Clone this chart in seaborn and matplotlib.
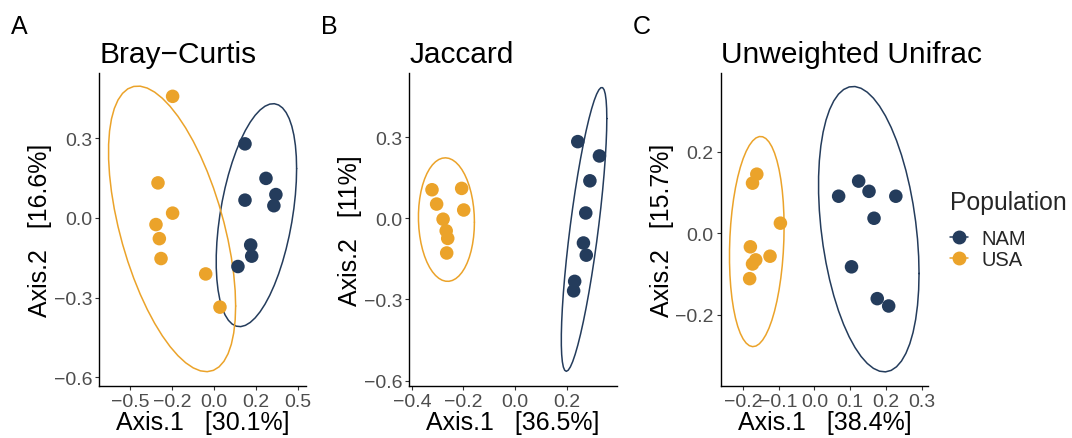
import numpy as np
import pandas as pd
import matplotlib
matplotlib.use('Agg')
import matplotlib.pyplot as plt
from matplotlib.lines import Line2D
import seaborn as sns

populations = ['NAM'] * 8 + ['USA'] * 8

# Bray-Curtis PCoA
bray_x = [0.183, 0.308, 0.367, 0.355, 0.183, 0.217, 0.223, 0.141,
          -0.248, -0.335, -0.248, -0.347, -0.327, -0.317, -0.051, 0.034]
bray_y = [0.279, 0.149, 0.088, 0.046, 0.067, -0.102, -0.144, -0.183,
          0.458, 0.132, 0.018, -0.025, -0.078, -0.153, -0.211, -0.336]

# Jaccard PCoA
jac_x = [0.243, 0.327, 0.290, 0.274, 0.265, 0.276, 0.231, 0.227,
         -0.322, -0.207, -0.304, -0.199, -0.279, -0.267, -0.261, -0.265]
jac_y = [0.284, 0.231, 0.139, 0.020, -0.091, -0.136, -0.233, -0.268,
         0.106, 0.111, 0.053, 0.031, -0.003, -0.046, -0.074, -0.128]

# Unweighted Unifrac PCoA
uni_x = [0.068, 0.124, 0.153, 0.228, 0.167, 0.104, 0.176, 0.208,
         -0.161, -0.173, -0.095, -0.179, -0.124, -0.164, -0.173, -0.181]
uni_y = [0.091, 0.128, 0.103, 0.091, 0.037, -0.082, -0.160, -0.178,
         0.145, 0.123, 0.025, -0.033, -0.056, -0.065, -0.075, -0.111]

titles = ['Bray\u2212Curtis', 'Jaccard', 'Unweighted Unifrac']
letters = ['A', 'B', 'C']
x_labels = ['Axis.1   [30.1%]', 'Axis.1   [36.5%]', 'Axis.1   [38.4%]']
y_labels = ['Axis.2   [16.6%]', 'Axis.2   [11%]', 'Axis.2   [15.7%]']

palette = {'NAM': '#243c5c', 'USA': '#eba32a'}


def cov_trob(xy, nu=5, maxit=25, tol=0.01):
    # robust multivariate t covariance, as MASS::cov.trob
    n, p = xy.shape
    wt = np.ones(n)
    loc = xy.mean(axis=0)
    w = np.sqrt(wt)
    for _ in range(maxit):
        w0 = w
        X = xy - loc
        u, d, vt = np.linalg.svd(np.sqrt(w / w.sum())[:, None] * X, full_matrices=False)
        wX = X @ vt.T @ np.diag(1 / d)
        Q = (wX ** 2).sum(axis=1)
        w = wt * (nu + p) / (nu + Q)
        loc = (w[:, None] * xy).sum(axis=0) / w.sum()
        if np.all(np.abs(w - w0) < tol):
            break
    sX = np.sqrt(w)[:, None] * X
    return loc, sX.T @ sX / wt.sum()


def ellipse(xs, ys, level=0.95, segments=51):
    xy = np.column_stack([xs, ys])
    center, shape = cov_trob(xy)
    dfd = len(xs) - 1
    fq = dfd / 2 * ((1 - level) ** (-2 / dfd) - 1)   # qf(level, 2, dfd)
    radius = np.sqrt(2 * fq)
    ang = np.linspace(0, 2 * np.pi, segments + 1)
    circle = np.column_stack([np.cos(ang), np.sin(ang)])
    R = np.linalg.cholesky(shape).T
    return center + radius * circle @ R


sns.set_theme(style='white')
plt.rcParams['font.family'] = ['Liberation Sans', 'DejaVu Sans']

fig = plt.figure(figsize=(10.72, 4.39), dpi=100)

panels = [
    (bray_x, bray_y, [0.0924, 0.1185, 0.1930, 0.7130], (-0.686, 0.546), (-0.633, 0.546),
     [-0.5, -0.25, 0, 0.25, 0.5], ['\u22120.5', '\u22120.2', '0.0', '0.2', '0.5'],
     [-0.6, -0.3, 0, 0.3], ['\u22120.6', '\u22120.3', '0.0', '0.3']),
    (jac_x, jac_y, [0.3818, 0.1185, 0.1935, 0.7130], (-0.41, 0.394), (-0.62, 0.538),
     [-0.4, -0.2, 0, 0.2], ['\u22120.4', '\u22120.2', '0.0', '0.2'],
     [-0.6, -0.3, 0, 0.3], ['\u22120.6', '\u22120.3', '0.0', '0.3']),
    (uni_x, uni_y, [0.6723, 0.1185, 0.1937, 0.7130], (-0.262, 0.319), (-0.374, 0.393),
     [-0.2, -0.1, 0, 0.1, 0.2, 0.3], ['\u22120.2', '\u22120.1', '0.0', '0.1', '0.2', '0.3'],
     [-0.2, 0, 0.2], ['\u22120.2', '0.0', '0.2']),
]

for i, (xs, ys, pos, xlim, ylim, xt, xtl, yt, ytl) in enumerate(panels):
    ax = fig.add_axes(pos)
    df = pd.DataFrame({'x': xs, 'y': ys, 'Population': populations})
    for pop in ['NAM', 'USA']:
        sub = df[df['Population'] == pop]
        ell = ellipse(sub['x'].to_numpy(), sub['y'].to_numpy())
        ax.plot(ell[:, 0], ell[:, 1], color=palette[pop], lw=1.1, zorder=1)
    sns.scatterplot(data=df, x='x', y='y', hue='Population', palette=palette,
                    s=95, edgecolor='none', legend=False, ax=ax, zorder=2)
    ax.set_xlim(*xlim)
    ax.set_ylim(*ylim)
    ax.set_xticks(xt)
    ax.set_xticklabels(xtl)
    ax.set_yticks(yt)
    ax.set_yticklabels(ytl)
    ax.tick_params(axis='both', which='both', bottom=True, left=True, length=3,
                   width=0.8, color='#333333', labelcolor='#4d4d4d', labelsize=14, pad=2)
    sns.despine(ax=ax)
    for sp in ['left', 'bottom']:
        ax.spines[sp].set_color('black')
        ax.spines[sp].set_linewidth(1.0)
    ax.set_xlabel(x_labels[i], fontsize=18, color='black', labelpad=0)
    ax.set_ylabel(y_labels[i], fontsize=18, color='black', labelpad=1)
    ax.set_title(titles[i], loc='left', fontsize=21.5, color='black', pad=8)
    fig.text(pos[0] - 0.082, 0.922, letters[i], fontsize=18, color='black',
             ha='left', va='baseline')

handles = [Line2D([0], [0], color=palette[p], marker='o', markersize=9, lw=1.1, label=p)
           for p in ['NAM', 'USA']]
leg = fig.legend(handles=handles, title='Population', loc='upper left',
                 bbox_to_anchor=(0.886, 0.565), frameon=False, fontsize=14.5,
                 title_fontsize=17.8, handlelength=0.9, handletextpad=0.65,
                 labelspacing=0.1, borderpad=0, borderaxespad=0)
leg._legend_box.align = 'left'
leg._legend_box.sep = 11

fig.savefig('out.png', dpi=100)
